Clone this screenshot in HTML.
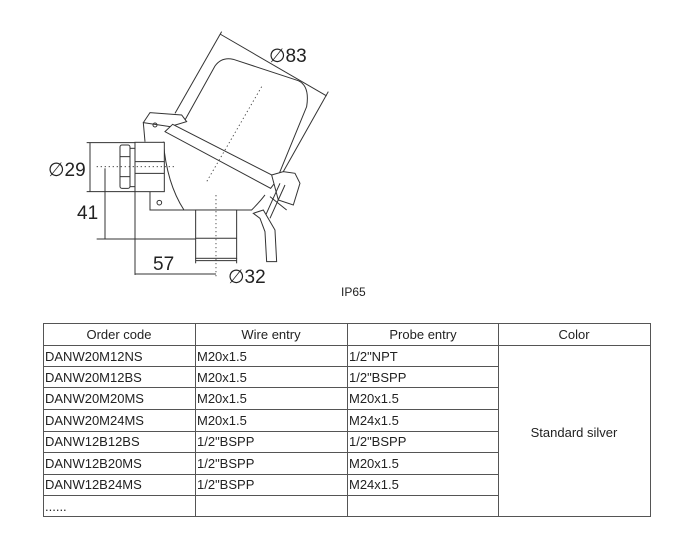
<!DOCTYPE html>
<html><head><meta charset="utf-8"><style>
html,body{margin:0;padding:0;background:#fff;}
svg{display:block;}
</style></head><body>
<svg width="700" height="548" viewBox="0 0 700 548" xmlns="http://www.w3.org/2000/svg">
<g transform="translate(30,10) scale(0.3333)" fill="none" stroke="#333" stroke-width="3">
  <line x1="570" y1="72" x2="890" y2="258"/>
  <line x1="575" y1="65" x2="435" y2="310"/>
  <line x1="895" y1="245" x2="760" y2="485"/>
  <path d="M465 330 L555 168 Q575 140 610 148 L805 212 Q840 228 830 290 L748 490" fill="#fff"/>
  <path d="M340 338 L360 308 L455 315 L470 335 L420 350 Z" fill="#fff"/>
  <circle cx="375" cy="345" r="6"/>
  <path d="M400 395 Q410 520 462 600 L665 600 Q690 575 705 555" fill="#fff"/>
  <path d="M360 545 L360 600 L462 600"/>
  <circle cx="388" cy="578" r="7"/>
  <path d="M405 365 L428 343 L745 505 L722 535 Z" fill="#fff"/>
  <path d="M340 338 L345 395"/>
  <rect x="315" y="397" width="88" height="148" fill="#fff"/>
  <line x1="315" y1="455" x2="403" y2="455"/>
  <line x1="315" y1="490" x2="403" y2="490"/>
  <rect x="298" y="415" width="17" height="115" fill="#fff"/>
  <rect x="270" y="405" width="30" height="130" rx="6" fill="#fff"/>
  <line x1="270" y1="440" x2="300" y2="440"/>
  <line x1="270" y1="500" x2="300" y2="500"/>
  <rect x="497" y="600" width="123" height="145" fill="#fff"/>
  <line x1="497" y1="685" x2="620" y2="685"/>
  <path d="M725 495 L760 485 L795 490 L810 520 L790 585 L745 570 Z" fill="#fff"/>
  <path d="M750 520 L705 620 M765 525 L720 625"/>
  <path d="M670 610 L700 600 L735 660 L740 755 L710 755 L705 665 L690 625 Z" fill="#fff"/>
  <line x1="720" y1="560" x2="770" y2="600"/>
  <g stroke-dasharray="4,8" stroke-width="2.5">
    <line x1="695" y1="230" x2="530" y2="515"/>
    <line x1="200" y1="470" x2="440" y2="470"/>
    <line x1="558" y1="555" x2="558" y2="805"/>
  </g>
  <line x1="180" y1="398" x2="180" y2="545"/>
  <line x1="170" y1="398" x2="315" y2="398"/>
  <line x1="170" y1="545" x2="315" y2="545"/>
  <line x1="225" y1="475" x2="225" y2="687"/>
  <line x1="200" y1="687" x2="497" y2="687"/>
  <line x1="315" y1="545" x2="315" y2="795"/>
  <line x1="315" y1="792" x2="558" y2="792"/>
  <line x1="497" y1="745" x2="497" y2="760"/>
  <line x1="620" y1="745" x2="620" y2="760"/>
  <line x1="497" y1="752" x2="620" y2="752"/>
</g>
<g font-family="Liberation Sans, DejaVu Sans, sans-serif" fill="#222">
  <text x="269" y="62" font-size="19">∅83</text>
  <text x="48" y="176" font-size="19">∅29</text>
  <text x="77" y="219" font-size="19">41</text>
  <text x="153" y="270" font-size="19">57</text>
  <text x="228" y="283" font-size="19">∅32</text>
  <text x="341" y="296" font-size="12">IP65</text>
</g>
<g stroke="#555" stroke-width="1" fill="none">
  <rect x="43.5" y="323.5" width="607" height="193"/>
  <line x1="195.5" y1="323" x2="195.5" y2="517"/>
  <line x1="347.5" y1="323" x2="347.5" y2="517"/>
  <line x1="498.5" y1="323" x2="498.5" y2="517"/>
  <line x1="43" y1="345.5" x2="651" y2="345.5"/>
  <line x1="43" y1="366.5" x2="498" y2="366.5"/>
  <line x1="43" y1="387.5" x2="498" y2="387.5"/>
  <line x1="43" y1="409.5" x2="498" y2="409.5"/>
  <line x1="43" y1="431.5" x2="498" y2="431.5"/>
  <line x1="43" y1="452.5" x2="498" y2="452.5"/>
  <line x1="43" y1="474.5" x2="498" y2="474.5"/>
  <line x1="43" y1="495.5" x2="498" y2="495.5"/>
</g>
<g font-family="Liberation Sans, sans-serif" font-size="13" fill="#222">
  <text x="119" y="339" text-anchor="middle">Order code</text>
  <text x="271" y="339" text-anchor="middle">Wire entry</text>
  <text x="423" y="339" text-anchor="middle">Probe entry</text>
  <text x="574" y="339" text-anchor="middle">Color</text>
  <text x="574" y="437" text-anchor="middle">Standard silver</text>
  <text x="45" y="361">DANW20M12NS</text>
  <text x="45" y="382">DANW20M12BS</text>
  <text x="45" y="403">DANW20M20MS</text>
  <text x="45" y="425">DANW20M24MS</text>
  <text x="45" y="446">DANW12B12BS</text>
  <text x="45" y="468">DANW12B20MS</text>
  <text x="45" y="489">DANW12B24MS</text>
  <text x="45" y="511">......</text>
  <text x="197" y="361">M20x1.5</text>
  <text x="197" y="382">M20x1.5</text>
  <text x="197" y="403">M20x1.5</text>
  <text x="197" y="425">M20x1.5</text>
  <text x="197" y="446">1/2"BSPP</text>
  <text x="197" y="468">1/2"BSPP</text>
  <text x="197" y="489">1/2"BSPP</text>
  <text x="349" y="361">1/2"NPT</text>
  <text x="349" y="382">1/2"BSPP</text>
  <text x="349" y="403">M20x1.5</text>
  <text x="349" y="425">M24x1.5</text>
  <text x="349" y="446">1/2"BSPP</text>
  <text x="349" y="468">M20x1.5</text>
  <text x="349" y="489">M24x1.5</text>
</g>
</svg>
</body></html>
